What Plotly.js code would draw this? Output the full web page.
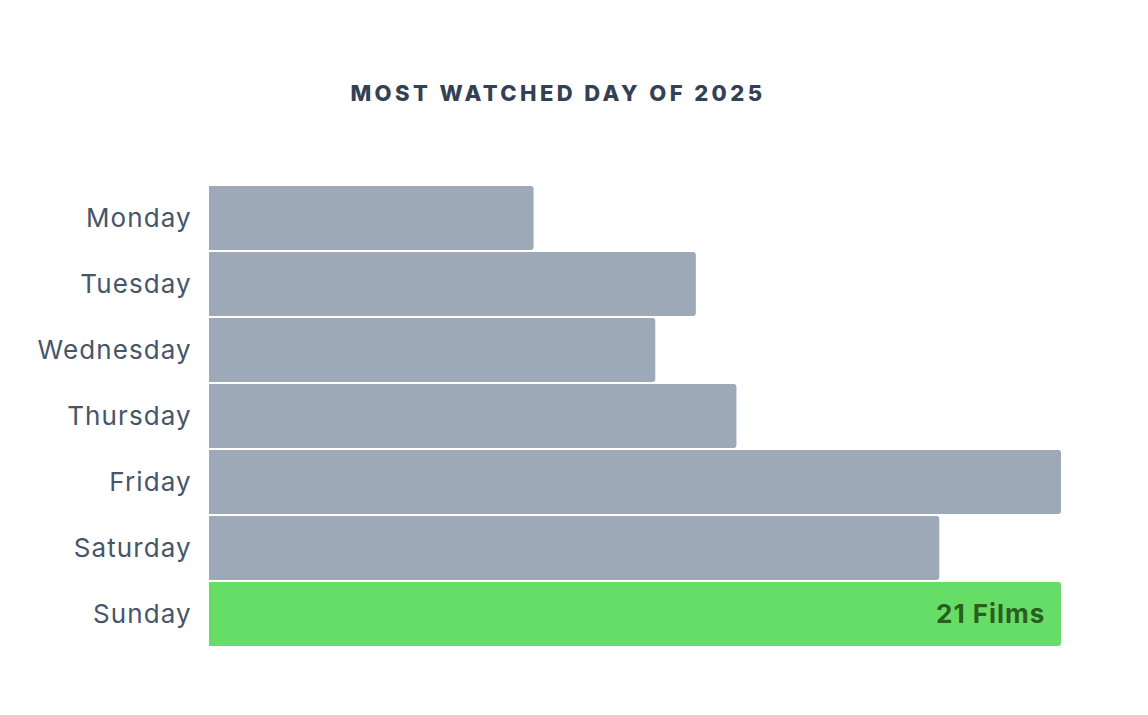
<!DOCTYPE html>
<html>
<head>
<meta charset="utf-8">
<script src="https://cdn.plot.ly/plotly-3.0.1.min.js"></script>
<style>
html,body{margin:0;padding:0;background:#fff;}
#chart{width:1148px;height:715px;}
.gtitle{letter-spacing:3.4px;}
.ytick text{letter-spacing:1.1px;}
.annotation-text{letter-spacing:1px;}
</style>
</head>
<body>
<div id="chart"></div>
<script>
const days = ["Monday","Tuesday","Wednesday","Thursday","Friday","Saturday","Sunday"];
const films = [8, 12, 11, 13, 21, 18, 21];
const highlightDay = "Sunday";
const grayColor = "#9ea9b8";
const greenColor = "#66dd66";

const colors = days.map(d => d === highlightDay ? greenColor : grayColor);
const hi = days.indexOf(highlightDay);

const data = [{
  type: "bar",
  orientation: "h",
  y: days,
  x: films,
  marker: {color: colors, cornerradius: 3, line: {width: 0}},
  hoverinfo: "none"
}];

const layout = {
  width: 1148,
  height: 715,
  paper_bgcolor: "#ffffff",
  plot_bgcolor: "#ffffff",
  margin: {l: 209, r: 87, t: 185, b: 68},
  bargap: 0.03,
  showlegend: false,
  title: {
    text: "MOST WATCHED DAY OF 2025",
    font: {family: "Inter, Lato, sans-serif", size: 22, color: "#334155", weight: 800},
    x: 0.486,
    xref: "container",
    xanchor: "center",
    y: 0.87,
    yref: "container",
    yanchor: "middle"
  },
  xaxis: {
    range: [0, 21],
    showgrid: false,
    zeroline: false,
    showticklabels: false,
    showline: false,
    fixedrange: true
  },
  yaxis: {
    autorange: "reversed",
    showgrid: false,
    zeroline: false,
    showline: false,
    ticks: "outside",
    ticklen: 11,
    tickcolor: "rgba(0,0,0,0)",
    tickfont: {family: "Inter, Lato, sans-serif", size: 26, color: "#475569"},
    fixedrange: true
  },
  annotations: [{
    x: films[hi],
    y: days[hi],
    xref: "x",
    yref: "y",
    yshift: 1,
    text: "<b>" + films[hi] + " Films</b>",
    showarrow: false,
    xanchor: "right",
    xshift: -14,
    font: {family: "Inter, Lato, sans-serif", size: 26, color: "#2a5d1f"}
  }]
};

Plotly.newPlot("chart", data, layout, {displayModeBar: false, staticPlot: true});
</script>
</body>
</html>
